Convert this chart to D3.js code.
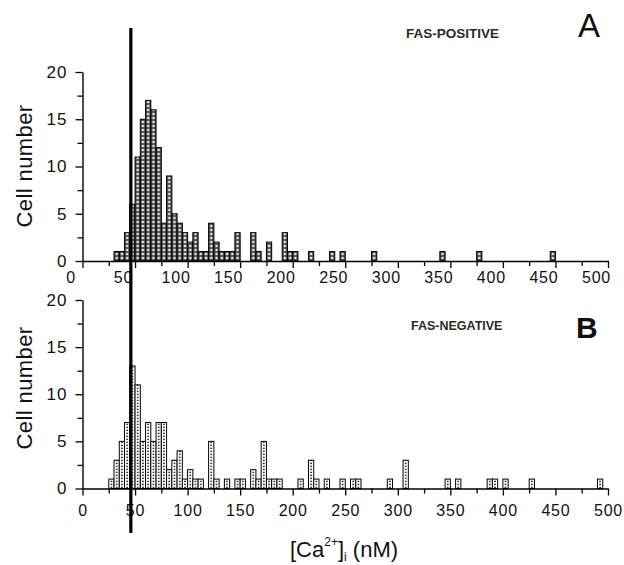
<!DOCTYPE html>
<html><head><meta charset="utf-8">
<script src="https://cdn.jsdelivr.net/npm/d3@7"></script>
<style>
body{margin:0;background:#fff}
svg{display:block;font-family:"Liberation Sans",Arial,Helvetica,sans-serif}
</style>
</head><body>
<svg id="chart" width="624" height="565"></svg>
<script>
// ---- data ----
const binWidth = 5;                       // nM per histogram bin
const thresholdValue = 46;                // vertical reference line (nM)
const xTicksMajor = [0,50,100,150,200,250,300,350,400,450,500];
const xTicksMinor = [25,75,125,175,225,275,325,375,425,475];
const yTicksMajor = [0,5,10,15,20];
const yTicksMinor = [2.5,7.5,12.5,17.5];

const binsA   = [30,35,40,45,50,55,60,65,70,75,80,85,90,95,100,105,110,115,120,125,130,135,140,145,160,165,175,190,195,200,215,235,245,275,340,375,445];
const countsA = [ 1, 1, 3, 6,11,15,17,16,12, 4, 9, 5, 4, 3,  2,  3,  1,  1,  4,  2,  1,  1,  1,  3,  3,  1,  2,  3,  1,  1,  1,  1,  1,  1,  1,  1,  1];

const binsB   = [25,30,35,40,45,50,55,60,65,70,75,80,85,90,95,100,105,110,120,125,135,145,150,160,165,170,175,180,185,205,215,220,230,245,255,260,290,305,345,355,385,390,400,425,490];
const countsB = [ 1, 3, 5, 7,13,11, 5, 7, 5, 7, 7, 2, 3, 4, 1,  2,  1,  1,  5,  1,  1,  1,  1,  2,  1,  5,  1,  1,  1,  1,  3,  1,  1,  1,  1,  1,  1,  3,  1,  1,  1,  1,  1,  1,  1];

const titleA = "FAS-POSITIVE", letterA = "A";
const titleB = "FAS-NEGATIVE", letterB = "B";
const yTitle = "Cell number";

// ---- drawing ----
const svg = d3.select("#chart");
const x = d3.scaleLinear().domain([0,500]).range([82.5,608]);
const yA = d3.scaleLinear().domain([0,20]).range([261,72]);
const yB = d3.scaleLinear().domain([0,20]).range([488.5,300]);
const bw = x(binWidth) - x(0);

const defs = svg.append("defs");
const pA = defs.append("pattern").attr("id","patA").attr("patternUnits","userSpaceOnUse")
  .attr("x", x(0)).attr("y", 0).attr("width", bw).attr("height", 4);
pA.append("rect").attr("width", bw).attr("height", 4).attr("fill", "#4a4a4a");
pA.append("rect").attr("x", 1.5).attr("y", 0.9).attr("width", 2.3).attr("height", 2.2).attr("fill", "#e8e8e8");

const pB = defs.append("pattern").attr("id","patB").attr("patternUnits","userSpaceOnUse")
  .attr("x", x(0)).attr("y", 0).attr("width", bw).attr("height", 3);
pB.append("rect").attr("width", bw).attr("height", 3).attr("fill", "#fff");
pB.append("rect").attr("x", bw/2 - 0.8).attr("y", 0.7).attr("width", 1.6).attr("height", 1.4).attr("fill", "#222");

function panel(bins, counts, y, pat, labelDx, labelDy, title, titleX, titleY, titleSize, letter, letterX, letterY, letterSize, letterWeight, yTitleY) {
  const g = svg.append("g");
  const data = bins.map((b,i)=>({b, c: counts[i]}));
  g.selectAll("rect.bar").data(data).join("rect").attr("class","bar")
    .attr("x", d => x(d.b)).attr("y", d => y(d.c))
    .attr("width", d => x(d.b + binWidth) - x(d.b))
    .attr("height", d => y(0) - y(d.c))
    .attr("fill", `url(#${pat})`).attr("stroke", "#000").attr("stroke-width", 1);

  // x axis
  const xa = g.append("g").attr("transform", `translate(0,${y(0)})`);
  xa.call(d3.axisBottom(x).tickValues(xTicksMajor).tickSize(7).tickSizeOuter(0).tickFormat(d3.format("d")));
  xa.append("g").call(d3.axisBottom(x).tickValues(xTicksMinor).tickSize(5).tickSizeOuter(0).tickFormat(""))
    .select(".domain").remove();
  xa.selectAll("text").attr("font-size", 16).attr("font-family", "Liberation Sans, Arial, sans-serif")
    .attr("fill", "#111").attr("letter-spacing", 0.8).attr("dx", labelDx).attr("y", labelDy).attr("dy", 0);
  xa.selectAll("line").attr("stroke", "#000").attr("stroke-width", 1.3);
  xa.selectAll(".domain").attr("stroke", "#000").attr("stroke-width", 1.4);

  // y axis
  const ya = g.append("g").attr("transform", `translate(${x(0)},0)`);
  ya.call(d3.axisLeft(y).tickValues(yTicksMajor).tickSize(7).tickSizeOuter(0).tickPadding(8).tickFormat(d3.format("d")));
  ya.append("g").call(d3.axisLeft(y).tickValues(yTicksMinor).tickSize(5).tickSizeOuter(0).tickFormat(""))
    .select(".domain").remove();
  ya.selectAll("text").attr("font-size", 17).attr("font-family", "Liberation Sans, Arial, sans-serif")
    .attr("fill", "#111").attr("letter-spacing", 1);
  ya.selectAll("line").attr("stroke", "#000").attr("stroke-width", 1.3);
  ya.selectAll(".domain").attr("stroke", "#000").attr("stroke-width", 1.4);

  g.append("text").attr("transform", `translate(32,${yTitleY}) rotate(-90)`)
    .attr("text-anchor", "middle").attr("font-size", 22).attr("letter-spacing", 0.4)
    .attr("fill", "#111").text(yTitle);

  g.append("text").attr("x", titleX).attr("y", titleY).attr("font-size", titleSize)
    .attr("font-weight", "bold").attr("fill", "#2a2a2a").text(title);
  g.append("text").attr("x", letterX).attr("y", letterY).attr("font-size", letterSize)
    .attr("font-weight", letterWeight).attr("fill", "#111").text(letter);
}

panel(binsA, countsA, yA, "patA", -12, 22, titleA, 406, 38, 13.5, letterA, 578, 37, 33, "normal", 166);
panel(binsB, countsB, yB, "patB", 0, 27, titleB, 411, 330, 12.5, letterB, 576, 338, 30, "bold", 388);

// vertical reference line
svg.append("line").attr("x1", x(thresholdValue)).attr("x2", x(thresholdValue))
  .attr("y1", 28).attr("y2", 533).attr("stroke", "#000").attr("stroke-width", 3.2);

// x axis title
const xt = svg.append("text").attr("x", 344).attr("y", 557).attr("text-anchor", "middle")
  .attr("font-size", 22).attr("fill", "#111");
xt.append("tspan").text("[Ca");
xt.append("tspan").attr("font-size", 12).attr("dy", -11).text("2+");
xt.append("tspan").attr("dy", 11).text("]");
xt.append("tspan").attr("font-size", 12).attr("dy", 4).text("i");
xt.append("tspan").attr("dy", -4).text(" (nM)");
</script>
</body></html>
